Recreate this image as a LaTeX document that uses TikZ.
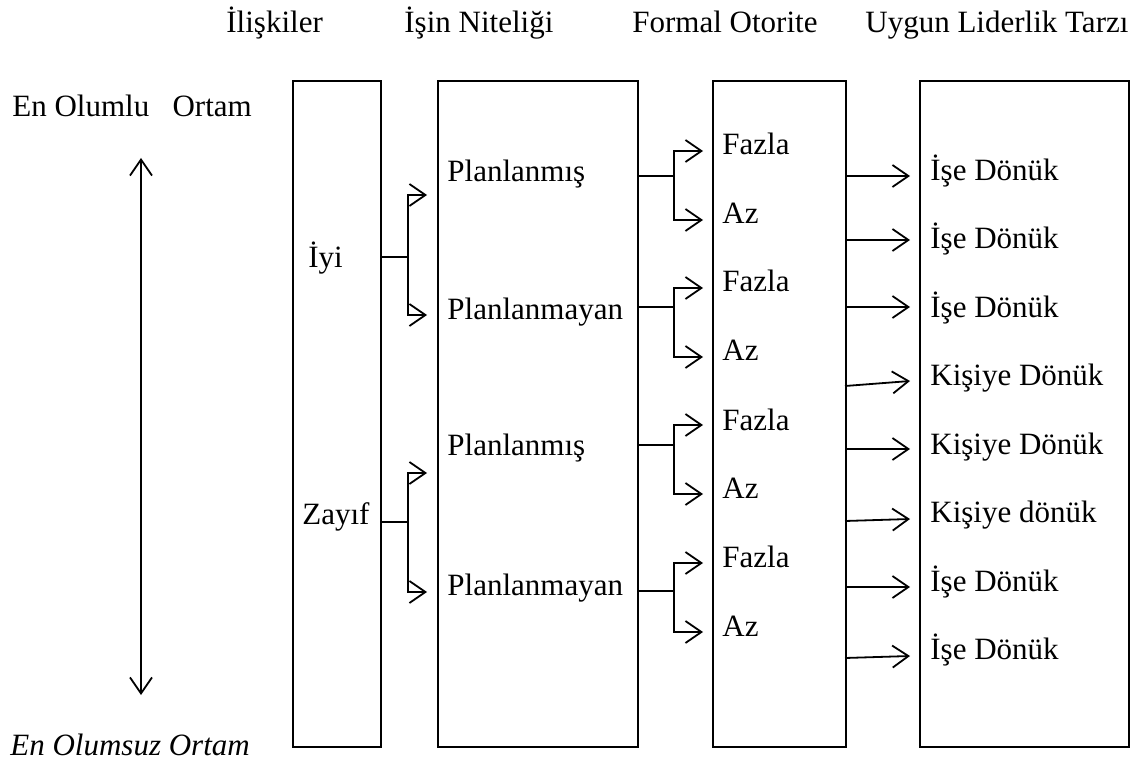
\documentclass[tikz,border=0pt]{standalone}
\usepackage{fontspec}
\setmainfont{Liberation Serif}
\usetikzlibrary{arrows.meta}

\tikzset{
  colbox/.style={draw, line width=1pt, minimum height=333pt, anchor=north west, inner sep=0pt},
  lbl/.style={anchor=base west, inner sep=0pt, font=\fontsize{15.5}{18}\selectfont},
  wire/.style={line width=0.9pt},
  arr/.style={wire, -{Straight Barb[length=8pt,width=11pt,line width=0.9pt]}},
  arrboth/.style={wire, {Straight Barb[length=8pt,width=11pt,line width=0.9pt]}-{Straight Barb[length=8pt,width=11pt,line width=0.9pt]}}
}

\begin{document}
\begin{tikzpicture}[x=0.5pt,y=-0.5pt]
            \useasboundingbox (0,0) rectangle (1143,769);

            % column titles
            \node[lbl] (hIliski) at (226,33) {İlişkiler};
            \node[lbl] (hNitelik) at (404,33) {İşin Niteliği};
            \node[lbl] (hOtorite) at (632,33) {Formal Otorite};
            \node[lbl] (hTarz) at (865,33) {Uygun Liderlik Tarzı};

            % left axis
            \node[lbl] (olumlu) at (12,117) {En Olumlu\ \ \ Ortam};
            \node[lbl, font=\fontsize{15.5}{18}\selectfont\itshape] (olumsuz) at (10,755) {En Olumsuz Ortam};
            \coordinate (axTop) at (141,158);
            \coordinate (axBot) at (141,695);
            \draw[arrboth] (axTop) -- (axBot);

            % columns
            \node[colbox, minimum width=44pt] (iliski) at (292,80) {};
            \node[colbox, minimum width=100pt] (nitelik) at (437,80) {};
            \node[colbox, minimum width=66.5pt] (otorite) at (712,80) {};
            \node[colbox, minimum width=104.5pt] (tarz) at (919,80) {};

            \node[lbl] (iyi) at (308,268) {İyi};
            \node[lbl] (zayif) at (302,524) {Zayıf};

            \node[lbl] (plan1) at (447,182) {Planlanmış};
            \node[lbl] (planm1) at (447,320) {Planlanmayan};
            \node[lbl] (plan2) at (447,455) {Planlanmış};
            \node[lbl] (planm2) at (447,595) {Planlanmayan};

            \node[lbl] (fazla1) at (722,155) {Fazla};
            \node[lbl] (az1) at (722,224) {Az};
            \node[lbl] (fazla2) at (722,292) {Fazla};
            \node[lbl] (az2) at (722,361) {Az};
            \node[lbl] (fazla3) at (722,430) {Fazla};
            \node[lbl] (az3) at (722,498) {Az};
            \node[lbl] (fazla4) at (722,567) {Fazla};
            \node[lbl] (az4) at (722,636) {Az};

            \node[lbl] (tarz1) at (930,181) {İşe Dönük};
            \node[lbl] (tarz2) at (930,249) {İşe Dönük};
            \node[lbl] (tarz3) at (930,318) {İşe Dönük};
            \node[lbl] (tarz4) at (930,386) {Kişiye Dönük};
            \node[lbl] (tarz5) at (930,454) {Kişiye Dönük};
            \node[lbl] (tarz6) at (930,522) {Kişiye dönük};
            \node[lbl] (tarz7) at (930,591) {İşe Dönük};
            \node[lbl] (tarz8) at (930,659) {İşe Dönük};

            % forks from relations
            \coordinate (jIyi) at (408,257);
            \coordinate (jZayif) at (408,522);
            \coordinate (pIyiA) at (427,195);
            \coordinate (pIyiB) at (427,315);
            \coordinate (pZayifA) at (427,473);
            \coordinate (pZayifB) at (427,592);
            \draw[wire] (iliski.east |- jIyi) -- (jIyi);
            \draw[arr] (jIyi) |- (pIyiA);
            \draw[arr] (jIyi) |- (pIyiB);
            \draw[wire] (iliski.east |- jZayif) -- (jZayif);
            \draw[arr] (jZayif) |- (pZayifA);
            \draw[arr] (jZayif) |- (pZayifB);

            % forks from task structure
            \coordinate (j1) at (674,176);
            \coordinate (j2) at (674,307);
            \coordinate (j3) at (674,445);
            \coordinate (j4) at (674,591);
            \coordinate (q1a) at (703,151);
            \coordinate (q1b) at (703,220);
            \coordinate (q2a) at (703,288);
            \coordinate (q2b) at (703,357);
            \coordinate (q3a) at (703,425);
            \coordinate (q3b) at (703,494);
            \coordinate (q4a) at (703,563);
            \coordinate (q4b) at (703,632);
            \draw[wire] (nitelik.east |- j1) -- (j1);
            \draw[arr] (j1) |- (q1a);
            \draw[arr] (j1) |- (q1b);
            \draw[wire] (nitelik.east |- j2) -- (j2);
            \draw[arr] (j2) |- (q2a);
            \draw[arr] (j2) |- (q2b);
            \draw[wire] (nitelik.east |- j3) -- (j3);
            \draw[arr] (j3) |- (q3a);
            \draw[arr] (j3) |- (q3b);
            \draw[wire] (nitelik.east |- j4) -- (j4);
            \draw[arr] (j4) |- (q4a);
            \draw[arr] (j4) |- (q4b);

            % authority to leadership style
            \coordinate (r1) at (910,176);
            \coordinate (r2) at (910,240);
            \coordinate (r3) at (910,307);
            \coordinate (r4) at (910,381);
            \coordinate (r5) at (910,449);
            \coordinate (r6) at (910,519);
            \coordinate (r7) at (910,587);
            \coordinate (r8) at (910,656);
            \coordinate (s4) at (845,386);
            \coordinate (s6) at (845,521);
            \coordinate (s8) at (845,658);
            \draw[arr] (otorite.east |- r1) -- (r1);
            \draw[arr] (otorite.east |- r2) -- (r2);
            \draw[arr] (otorite.east |- r3) -- (r3);
            \draw[arr] (s4) -- (r4);
            \draw[arr] (otorite.east |- r5) -- (r5);
            \draw[arr] (s6) -- (r6);
            \draw[arr] (otorite.east |- r7) -- (r7);
            \draw[arr] (s8) -- (r8);
\end{tikzpicture}
\end{document}
